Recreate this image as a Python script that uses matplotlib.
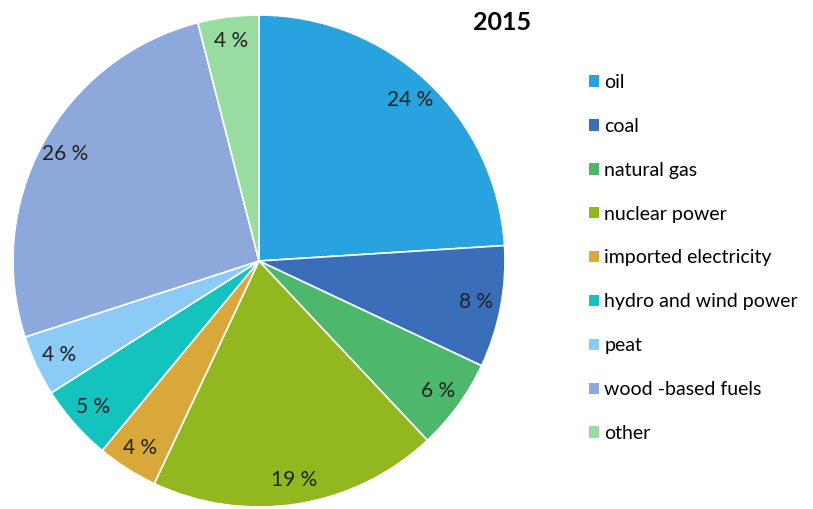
import matplotlib
matplotlib.use("Agg")
from matplotlib import pyplot as plt
from matplotlib.patches import Patch

plt.rcParams['font.family'] = ['Lato', 'DejaVu Sans']

# energy sources, share of total consumption (%)
sources = ["oil", "coal", "natural gas", "nuclear power", "imported electricity",
           "hydro and wind power", "peat", "wood -based fuels", "other"]
shares = [24, 8, 6, 19, 4, 5, 4, 26, 4]
colors = ["#29A2E0", "#3A6EB8", "#4DB86C", "#93B71F", "#D8A83A",
          "#14C2BE", "#8CCBF5", "#8DA8DA", "#98DCA2"]
year = "2015"

fig = plt.figure(figsize=(8.13, 5.09), dpi=100)
ax = fig.add_axes([13 / 813, 2 / 509, 492 / 813, 492 / 509])

wedges, texts, autotexts = ax.pie(
    shares, colors=colors, startangle=90, counterclock=False,
    autopct=lambda p: "%d %%" % round(p), pctdistance=0.9,
    wedgeprops=dict(edgecolor="white", linewidth=1.2),
    textprops=dict(fontsize=15, color="#222222"))
ax.set_xlim(-1, 1)
ax.set_ylim(-1, 1)

fig.text(502 / 813, 1 - 22 / 509, year, fontsize=18, fontweight="bold",
         ha="center", va="center")

handles = [Patch(facecolor=c, edgecolor="none") for c in colors]
fig.legend(handles, sources, loc="upper left", bbox_to_anchor=(579 / 813, 1 - 64 / 509),
           frameon=False, fontsize=14, handlelength=0.55, handleheight=0.55,
           handletextpad=0.25, labelspacing=1.385, borderpad=0)

fig.savefig("out.png", dpi=100)
